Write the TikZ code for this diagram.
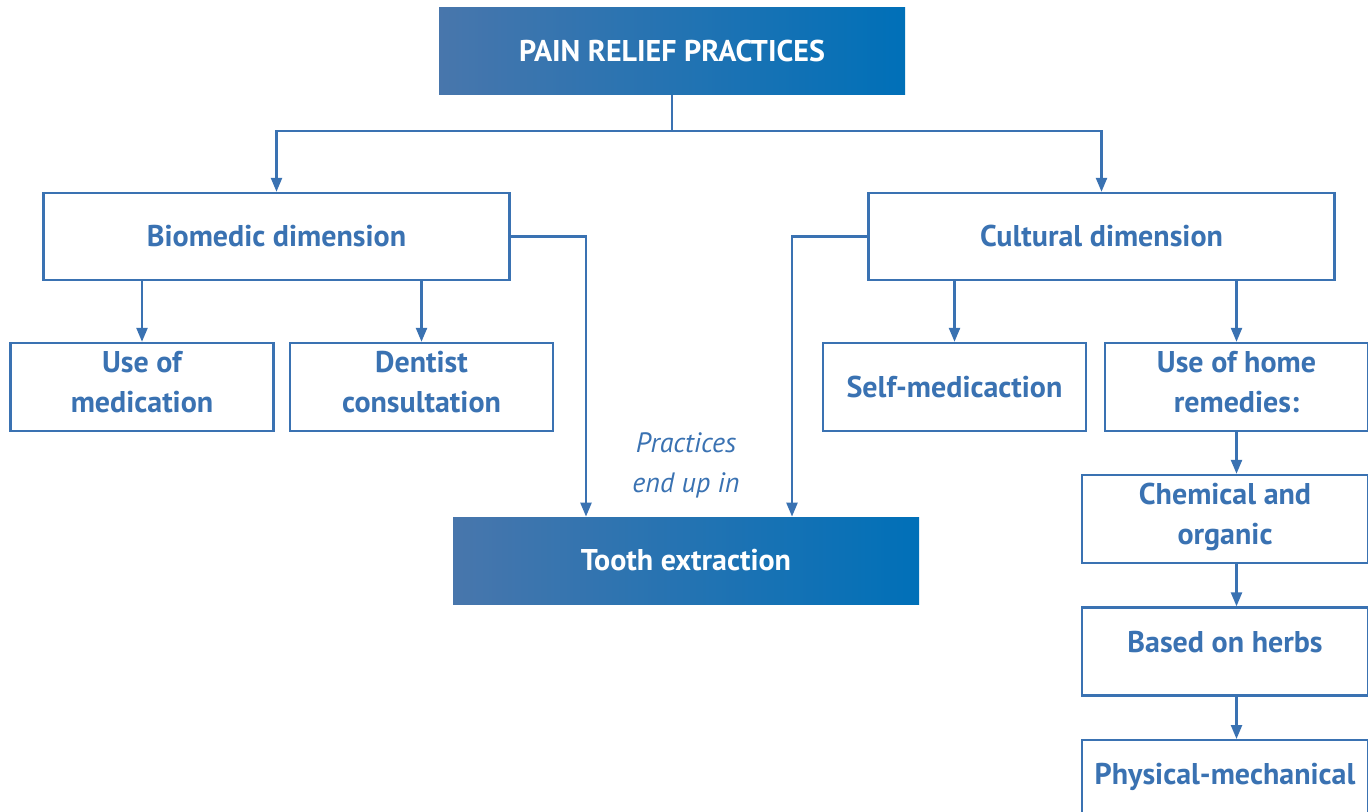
\documentclass[tikz,border=0pt]{standalone}
\usepackage{fontspec}
\setmainfont{PT Sans}
\usepackage{tikz}
\usepackage{xcolor}
\usetikzlibrary{positioning, calc, arrows.meta}

\definecolor{painblue}{RGB}{58,114,178}
\definecolor{gradleft}{RGB}{72,118,172}
\definecolor{gradright}{RGB}{0,112,184}

\begin{document}
\begin{tikzpicture}[x=0.5pt, y=-0.5pt,
    darkbox/.style={rectangle, left color=gradleft, right color=gradright, draw=none,
        minimum width=233pt, minimum height=43.5pt, text=white, font=\bfseries\fontsize{15}{18}\selectfont},
    dimbox/.style={rectangle, draw=painblue, line width=1.2pt, fill=white,
        minimum width=233pt, minimum height=43.5pt, text=painblue, font=\bfseries\fontsize{15}{18}\selectfont},
    subbox/.style={rectangle, draw=painblue, line width=1.2pt, fill=white, align=center,
        minimum width=131.5pt, minimum height=44pt, text=painblue, font=\bfseries\fontsize{15}{20}\selectfont},
    stackbox/.style={subbox, minimum width=143pt},
    link/.style={draw=painblue, line width=1.2pt, -{Triangle[length=7pt,width=5.5pt]}}]
    \useasboundingbox (0,0) rectangle (1368,812);
    % top and dimensions
    \node[darkbox] (pain) at (672,51.5) {PAIN RELIEF PRACTICES};
    \node[dimbox] (bio) at (276.5,236.5) {Biomedic dimension};
    \node[dimbox] (cult) at (1101.5,236.5) {Cultural dimension};
    % biomedic branch
    \node[subbox, text depth=5pt] (meds) at (142,387) {Use of\\medication};
    \node[subbox, text depth=5pt] (dent) at (421.5,387) {Dentist\\consultation};
    % cultural branch
    \node[subbox] (self) at (954.5,387) {Self-medicaction};
    \node[subbox, text depth=5pt] (home) at (1236.5,387) {Use of home\\remedies:};
    \node[stackbox, text depth=5pt] (chem) at (1225,519) {Chemical and\\organic};
    \node[stackbox, text depth=10pt] (herb) at (1225,651.5) {Based on herbs};
    \node[stackbox, text depth=10pt, anchor=north] (phys) at (1225,739) {Physical-mechanical};
    % end point
    \node[darkbox] (tooth) at (686,560.5) {Tooth extraction};
    \node[text=painblue, font=\itshape\fontsize{14}{20}\selectfont, align=center] (ends) at (686,465) {Practices\\end up in};
    % connectors
    \coordinate (split) at (672,131);
    \coordinate (bioturn) at (586,236.5);
    \coordinate (cultturn) at (792,236.5);
    \draw[draw=painblue, line width=1.2pt] (pain.south) -- (split);
    \draw[link] (split) -| (bio.north);
    \draw[link] (split) -| (cult.north);
    \draw[link] (bio.south -| meds.north) -- (meds.north);
    \draw[link] (bio.south -| dent.north) -- (dent.north);
    \draw[link] (cult.south -| self.north) -- (self.north);
    \draw[link] (cult.south -| home.north) -- (home.north);
    \draw[link] (home.south) -- (home.south |- chem.north);
    \draw[link] (chem.south -| home.south) -- (home.south |- herb.north);
    \draw[link] (herb.south -| home.south) -- (home.south |- phys.north);
    \draw[link] (bio.east) -- (bioturn) -- (bioturn |- tooth.north);
    \draw[link] (cult.west) -- (cultturn) -- (cultturn |- tooth.north);
\end{tikzpicture}
\end{document}
